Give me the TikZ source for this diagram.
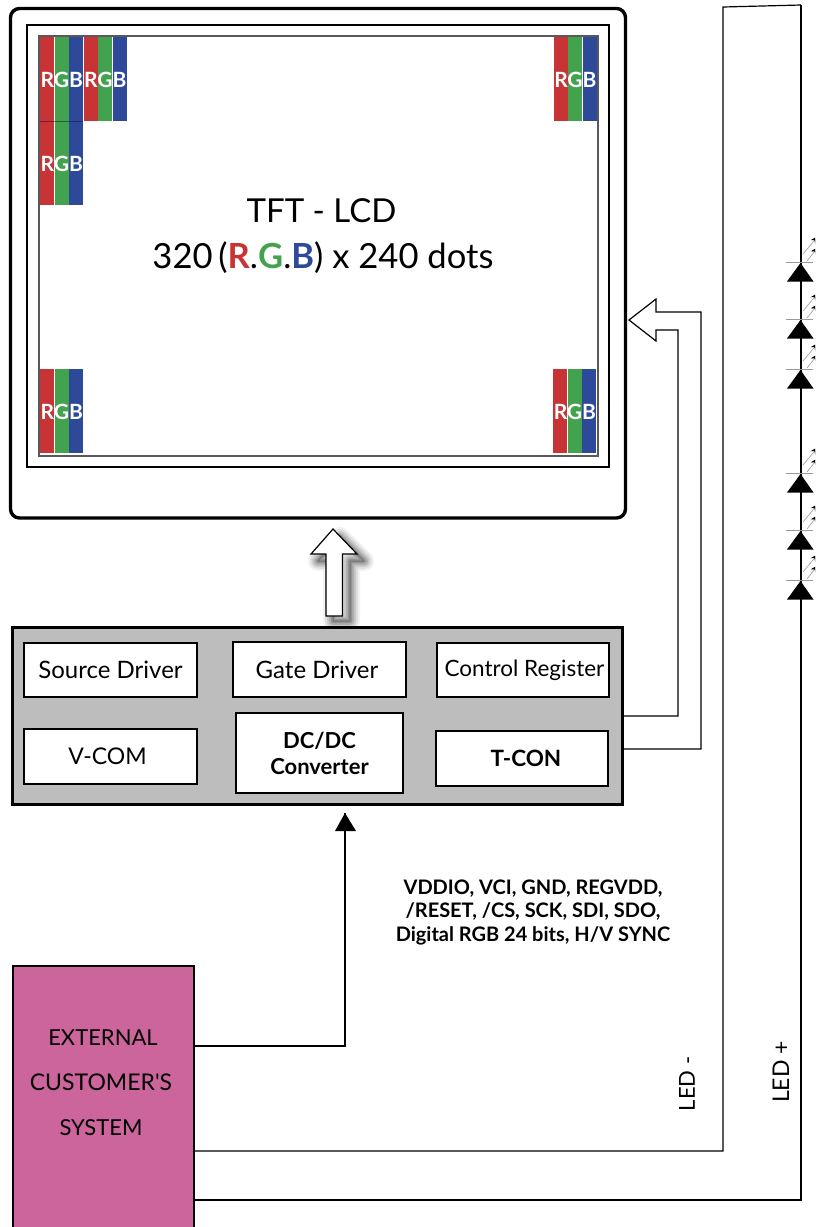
\documentclass[tikz,border=0pt]{standalone}
\usepackage{fontspec}
\setmainfont{Lato}
\usetikzlibrary{arrows.meta}
\definecolor{pr}{RGB}{200,52,54}
\definecolor{pg}{RGB}{66,162,78}
\definecolor{pb}{RGB}{46,72,154}
\definecolor{panelgrey}{RGB}{189,189,189}
\definecolor{extpink}{RGB}{205,101,157}
\newcommand{\fs}[1]{\fontsize{#1}{#1}\selectfont}
\tikzset{
  frameA/.style={draw=black,line width=3.4pt,rounded corners=9pt},
  frameB/.style={draw=black,line width=2.4pt},
  screenbox/.style={draw=black!65,line width=1.2pt},
  inbox/.style={draw=black,line width=1.2pt,fill=white,inner sep=0pt,font=\fs{22}},
  wire/.style={draw=black,line width=1.2pt},
  ledwire/.style={draw=black,line width=1.8pt},
  hollow/.style={draw=black,line width=1.2pt,fill=white,line join=miter},
  lab/.style={inner sep=0pt,align=center},
  rgbl/.style={text=white,font=\fs{21}\bfseries,inner sep=0pt},
  diode/.style={fill=black,draw=none},
  dbar/.style={draw=black!40,line width=.8pt},
  ray/.style={draw=black!35,line width=.7pt,-{Stealth[length=8pt,width=6pt,black]}}
}
\newcommand{\rgbcell}[3]{%
  \fill[pr] (#1,#2) rectangle ++(14,84);
  \fill[pg] (#1+14.5,#2) rectangle ++(14,84);
  \fill[pb] (#1+29,#2) rectangle ++(14,84);
  \node[rgbl] (#3r) at (#1+7.5,#2+43) {R};
  \node[rgbl] (#3g) at (#1+21.5,#2+43) {G};
  \node[rgbl] (#3b) at (#1+36,#2+43) {B};
}
\newcommand{\led}[2]{%
  \draw[dbar] (786,#1-1) -- (813,#1-1);
  \fill[diode] (800.5,#1) -- (813.5,#1+18.5) -- (787,#1+18.5) -- cycle;
  \coordinate (#2a) at (803,#1-9);
  \coordinate (#2b) at (818,#1-27);
  \coordinate (#2c) at (807,#1-2);
  \coordinate (#2d) at (818,#1-16);
  \draw[ray] (#2a) -- (#2b);
  \draw[ray] (#2c) -- (#2d);
}
\begin{document}
\begin{tikzpicture}[x=1pt,y=-1pt]
\useasboundingbox (0,0) rectangle (815,1227);
\clip (0,0) rectangle (815,1227);
\fill[white] (0,0) rectangle (815,1227);

% LCD module frames
\draw[frameA] (10.5,8.5) rectangle (625.5,518);
\draw[frameB] (27,25) rectangle (609,467);
\draw[screenbox] (39,36) rectangle (598,456);

% pixels
\rgbcell{40}{37}{pa}
\rgbcell{83.5}{37}{pb}
\rgbcell{40}{121}{pc}
\rgbcell{553.5}{37}{pd}
\rgbcell{40}{369}{pe}
\rgbcell{553}{369}{pf}
\draw[black!70!pb,opacity=.5,line width=1pt] (40,121) -- (83,121);

% title
\node[lab,font=\fs{33}] (title) at (321.5,211) {TFT - LCD};
\node[lab,font=\fs{34.6}] (dots) at (323,258) {320\,(\textcolor{pr}{\textbf{R}}.\textcolor{pg}{\textbf{G}}.\textcolor{pb}{\textbf{B}}) x 240 dots};

% up arrow with soft shadow
\foreach \w/\o in {20/.05,16/.07,12/.1,8/.13,4/.16,1/.2}{
  \draw[black,opacity=\o,line width=\w pt,line join=round]
    (340,537) -- (364,561) -- (350,561) -- (350,621) -- (333,621) -- (333,561) -- (318,561) -- cycle;
}
\draw[hollow] (333,529) -- (357,554) -- (342.5,554) -- (342.5,616) -- (326,616) -- (326,554) -- (311,554) -- cycle;

% controller panel
\node[draw=black,line width=3pt,fill=panelgrey,minimum width=610pt,minimum height=177pt,inner sep=0pt] (panel) at (317,715.5) {};
\node[inbox,minimum width=173pt,minimum height=54pt] (src) at (110.5,670) {\fs{24}Source Driver};
\node[inbox,minimum width=173pt,minimum height=55pt] (gate) at (319.5,669.5) {\fs{24}\hspace*{-5pt}Gate Driver};
\node[inbox,minimum width=172pt,minimum height=54pt] (ctrl) at (523,670) {\fs{22.5}\raisebox{-2pt}{\hspace*{3pt}Control Register}};
\node[inbox,minimum width=173pt,minimum height=55pt] (vcom) at (110.5,756.5) {\fs{23}\hspace*{-6pt}\raisebox{-2pt}{V-COM}};
\node[inbox,minimum width=167pt,minimum height=80pt,align=center] (dcdc) at (319.5,753) {\fs{22}\bfseries DC/DC\\[4pt]\fs{22}\bfseries Converter};
\node[inbox,minimum width=172pt,minimum height=55pt] (tcon) at (522,758.5) {\fs{22.5}\bfseries\hspace*{8pt}T-CON};

% hollow arrow to the LCD
\coordinate (tipH) at (629,320);
\coordinate (outA) at (622,716);
\coordinate (outB) at (622,749);
\draw[hollow,fill=none] (outA) -- (678,716) -- (678,330) -- (656,330) -- (656,341) -- (tipH) -- (656,299) -- (656,312) -- (701,312) -- (701,749) -- (outB);

% external system
\node[draw=black,line width=2.6pt,fill=extpink,minimum width=181pt,minimum height=300pt,inner sep=0pt,anchor=north west] (ext) at (11.5,964.5) {};
\node[lab,font=\fs{22},text=black] (ex1) at (103,1038) {EXTERNAL};
\node[lab,font=\fs{23},text=black] (ex2) at (101,1082) {CUSTOMER\textquotesingle S};
\node[lab,font=\fs{22},text=black] (ex3) at (101,1128) {SYSTEM};

% signal bus
\coordinate (dctip) at (345,813);
\coordinate (s1) at (195,1046);
\draw[wire] (s1) -- (345,1046) -- (dctip);
\fill[black] (345,813) -- (356,831) -- (335,831) -- cycle;
\node[lab,font=\fs{20}\bfseries] (sig) at (533,912) {VDDIO, VCI, GND, REGVDD,\\[3.5pt]/RESET, /CS, SCK, SDI, SDO,\\[3.5pt]Digital RGB 24 bits, H/V SYNC};

% LED lines
\coordinate (s2) at (195,1151);
\coordinate (s3) at (195,1200);
\coordinate (t1) at (723,7);
\coordinate (t2) at (801,5);
\draw[wire] (s2) -- (723,1151) -- (t1) -- (t2);
\draw[ledwire] (s3) -- (801,1200) -- (t2);
\node[lab,font=\fs{22},rotate=90] (ledm) at (687,1084) {LED -};
\node[lab,font=\fs{23},rotate=90] (ledp) at (781,1072) {LED +};

\led{263}{la}
\led{320}{lb}
\led{370}{lc}
\led{474}{ld}
\led{531}{le}
\led{581}{lf}
\end{tikzpicture}
\end{document}
